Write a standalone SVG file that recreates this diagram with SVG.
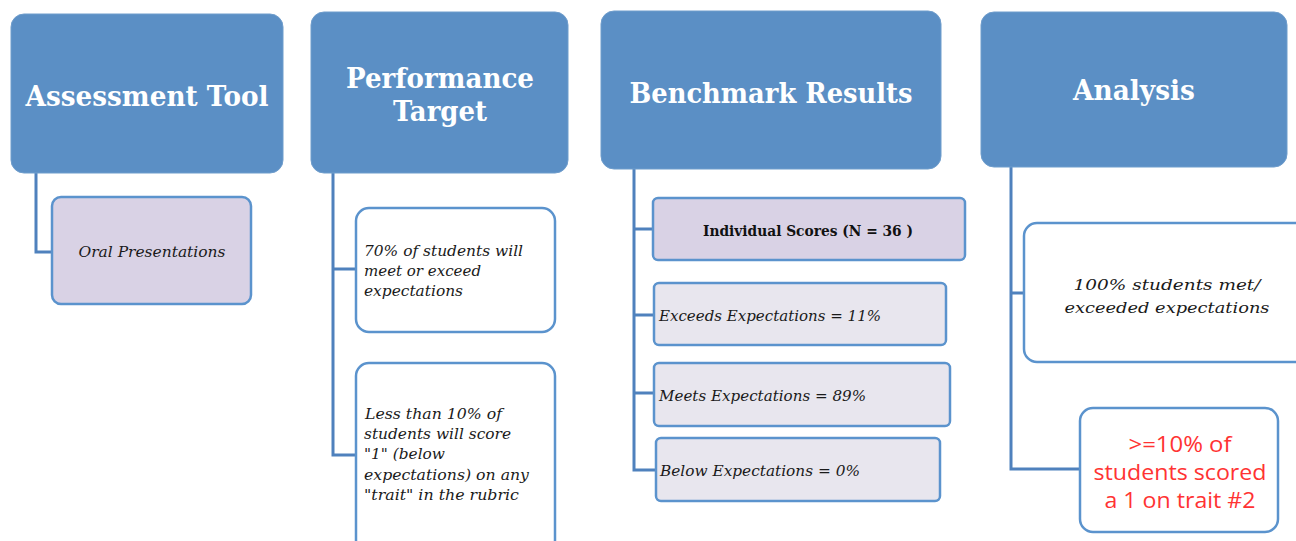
<svg xmlns="http://www.w3.org/2000/svg" width="1296" height="541" viewBox="0 0 1296 541">
<style>
.hdr{fill:#5b8fc5;stroke:#6f9dcc;stroke-width:1}
.ht{font-family:"DejaVu Serif","Liberation Serif",serif;font-weight:bold;fill:#ffffff;font-size:28.5px;text-anchor:middle}
.box{stroke:#5b93cd;stroke-width:2.5}
.lav{fill:#d9d2e5}
.lt{fill:#e8e6ee}
.wh{fill:#ffffff}
.it{font-family:"DejaVu Serif","Liberation Serif",serif;font-style:italic;fill:#1a1a1a;font-size:15px}
.bt{font-family:"DejaVu Serif","Liberation Serif",serif;font-weight:bold;fill:#111111;font-size:14px;text-anchor:middle}
.red{font-family:"Open Sans","Liberation Sans",sans-serif;fill:#ff3333;font-size:22px;text-anchor:middle}
.con{fill:none;stroke:#4f81bd;stroke-width:3}
</style>
<g id="connectors">
<path class="con" d="M36 173 V252 H52"/>
<path class="con" d="M333 173 V455 H356 M333 269 H356"/>
<path class="con" d="M634 169 V470 H656 M634 229 H653 M634 315 H654 M634 393 H654"/>
<path class="con" d="M1011 167 V469 H1080 M1011 293 H1024"/>
</g>
<g id="assessment-tool">
<rect class="hdr" x="11" y="14" width="272" height="159" rx="13"/>
<text class="ht" x="147" y="106" textLength="243" lengthAdjust="spacingAndGlyphs">Assessment Tool</text>
</g>
<g id="oral-presentations">
<rect class="box lav" x="52" y="197" width="199" height="107" rx="9"/>
<text class="it" x="152" y="257" text-anchor="middle" textLength="147" lengthAdjust="spacingAndGlyphs">Oral Presentations</text>
</g>
<g id="performance-target">
<rect class="hdr" x="311" y="12" width="257" height="161" rx="13"/>
<text class="ht" x="440" y="88" textLength="188" lengthAdjust="spacingAndGlyphs">Performance</text>
<text class="ht" x="440" y="121" textLength="94" lengthAdjust="spacingAndGlyphs">Target</text>
</g>
<g id="target-70">
<rect class="box wh" x="356" y="208" width="199" height="124" rx="13"/>
<text class="it" x="364" y="256" textLength="159" lengthAdjust="spacingAndGlyphs">70% of students will</text>
<text class="it" x="364" y="276" textLength="117" lengthAdjust="spacingAndGlyphs">meet or exceed</text>
<text class="it" x="364" y="296" textLength="99" lengthAdjust="spacingAndGlyphs">expectations</text>
</g>
<g id="target-10">
<rect class="box wh" x="356" y="363" width="199" height="190" rx="13"/>
<text class="it" x="365" y="419" textLength="137" lengthAdjust="spacingAndGlyphs">Less than 10% of</text>
<text class="it" x="364" y="439" textLength="147" lengthAdjust="spacingAndGlyphs">students will score</text>
<text class="it" x="364" y="459" textLength="81" lengthAdjust="spacingAndGlyphs">"1" (below</text>
<text class="it" x="364" y="480" textLength="165" lengthAdjust="spacingAndGlyphs">expectations) on any</text>
<text class="it" x="364" y="500" textLength="155" lengthAdjust="spacingAndGlyphs">"trait" in the rubric</text>
</g>
<g id="benchmark-results">
<rect class="hdr" x="601" y="11" width="340" height="158" rx="13"/>
<text class="ht" x="771" y="103" textLength="283" lengthAdjust="spacingAndGlyphs">Benchmark Results</text>
</g>
<g id="individual-scores">
<rect class="box lav" x="653" y="198" width="312" height="62" rx="5"/>
<text class="bt" x="808" y="236" textLength="210" lengthAdjust="spacingAndGlyphs">Individual Scores (N = 36 )</text>
</g>
<g id="exceeds">
<rect class="box lt" x="654" y="283" width="292" height="62" rx="5"/>
<text class="it" x="659" y="321" textLength="222" lengthAdjust="spacingAndGlyphs">Exceeds Expectations = 11%</text>
</g>
<g id="meets">
<rect class="box lt" x="654" y="363" width="296" height="63" rx="5"/>
<text class="it" x="659" y="401" textLength="207" lengthAdjust="spacingAndGlyphs">Meets Expectations = 89%</text>
</g>
<g id="below">
<rect class="box lt" x="656" y="438" width="284" height="63" rx="5"/>
<text class="it" x="660" y="476" textLength="200" lengthAdjust="spacingAndGlyphs">Below Expectations = 0%</text>
</g>
<g id="analysis">
<rect class="hdr" x="981" y="12" width="306" height="155" rx="13"/>
<text class="ht" x="1134" y="100" textLength="122" lengthAdjust="spacingAndGlyphs">Analysis</text>
</g>
<g id="analysis-100">
<rect class="box wh" x="1024" y="223" width="290" height="139" rx="13"/>
<text class="it" x="1167" y="290" text-anchor="middle" font-size="18" textLength="187" lengthAdjust="spacingAndGlyphs">100% students met/</text>
<text class="it" x="1167" y="313" text-anchor="middle" font-size="18" textLength="205" lengthAdjust="spacingAndGlyphs">exceeded expectations</text>
</g>
<g id="analysis-10">
<rect class="box wh" x="1080" y="408" width="198" height="124" rx="13"/>
<text class="red" x="1180" y="452" textLength="103" lengthAdjust="spacingAndGlyphs">&gt;=10% of</text>
<text class="red" x="1180" y="480" textLength="173" lengthAdjust="spacingAndGlyphs">students scored</text>
<text class="red" x="1180" y="508" textLength="151" lengthAdjust="spacingAndGlyphs">a 1 on trait #2</text>
</g>
</svg>
